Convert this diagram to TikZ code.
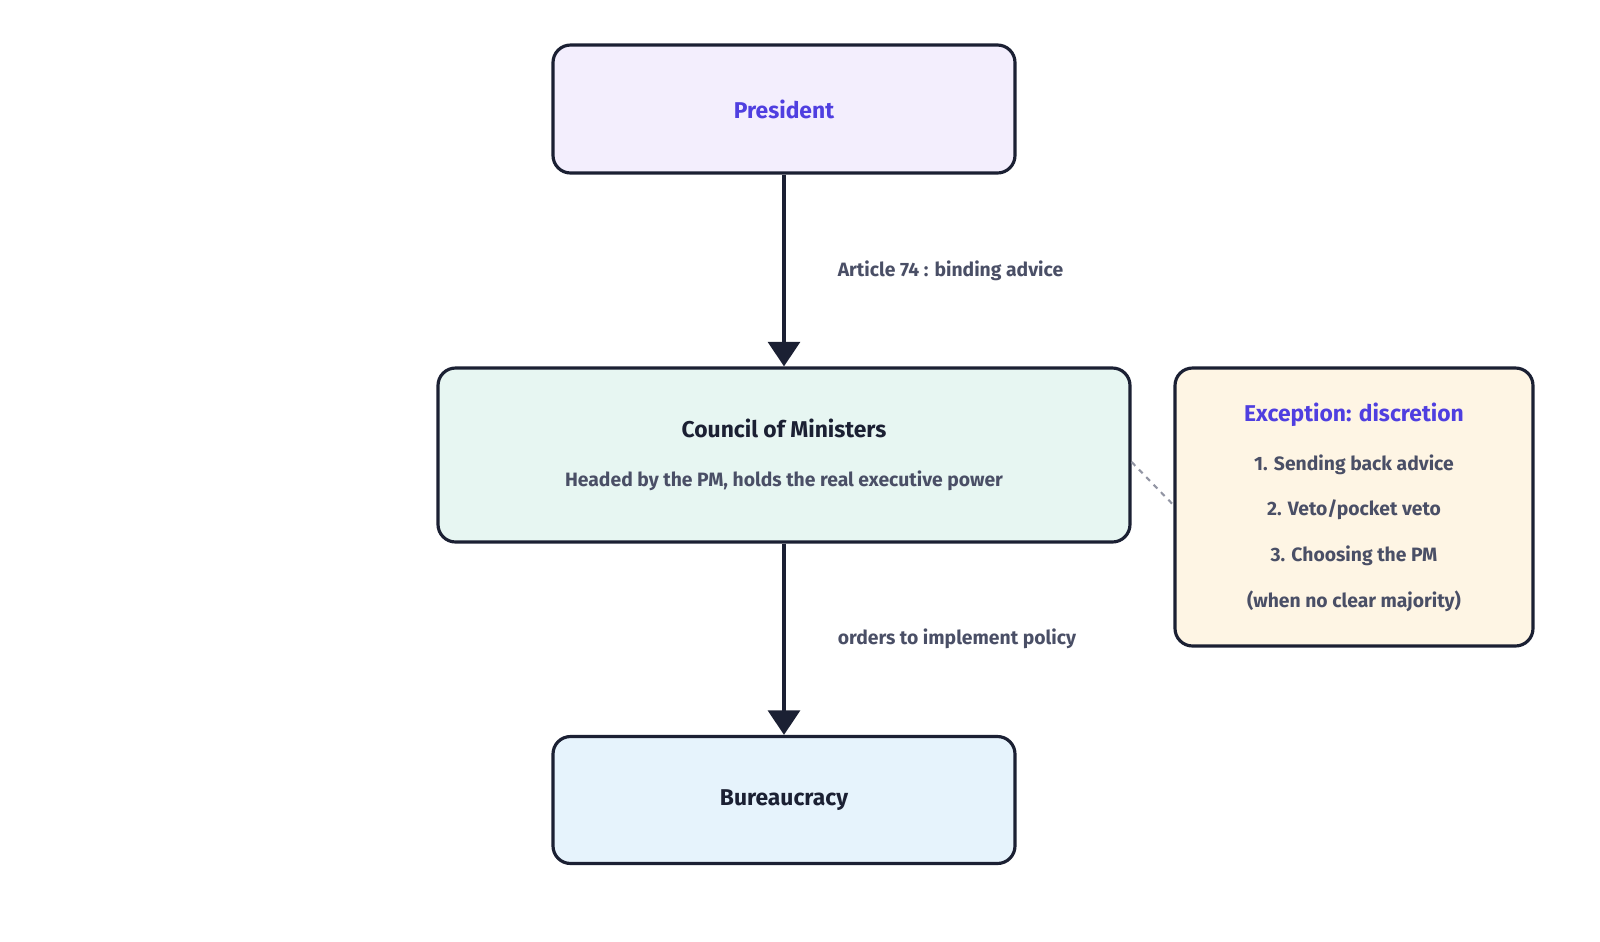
\documentclass[tikz,border=0pt]{standalone}
\usepackage{fontspec}
\setmainfont{Fira Sans}
\usetikzlibrary{positioning,arrows.meta}
\definecolor{inkc}{HTML}{1B2033}
\definecolor{violet}{HTML}{4F3FE0}
\definecolor{slate}{HTML}{4A4F66}
\definecolor{presfill}{HTML}{F3EEFD}
\definecolor{comfill}{HTML}{E7F6F2}
\definecolor{burfill}{HTML}{E6F3FC}
\definecolor{excfill}{HTML}{FEF5E4}
\tikzset{
  box/.style={draw=inkc, line width=1.8pt, rounded corners=10pt, align=center},
  flow/.style={draw=inkc, line width=2.6pt, -{Triangle[length=14pt,width=18pt]}},
  lbl/.style={text=slate, font=\fontsize{11}{13}\selectfont\bfseries, anchor=west}
}
\begin{document}
\begin{tikzpicture}[x=0.02cm,y=-0.02cm]
  \useasboundingbox (0,0) rectangle (1600,941);
  \node[box, fill=presfill, minimum width=462*0.02cm, minimum height=128*0.02cm,
        text=violet, font=\fontsize{13}{15}\selectfont\bfseries] (pres) at (784,109) {President};
  \node[box, fill=comfill, minimum width=692*0.02cm, minimum height=174*0.02cm] (com) at (784,455)
    {{\fontsize{13}{15}\selectfont\bfseries\color{inkc}Council of Ministers}\\[16pt]
     {\fontsize{11}{13}\selectfont\bfseries\color{slate}Headed by the PM, holds the real executive power}};
  \node[box, fill=burfill, minimum width=462*0.02cm, minimum height=127*0.02cm,
        text=inkc, font=\fontsize{13}{15}\selectfont\bfseries] (bur) at (784,800) {Bureaucracy};
  \node[box, fill=excfill, minimum width=358*0.02cm, minimum height=278*0.02cm,
        font=\fontsize{11}{13}\selectfont\bfseries, text=slate] (exc) at (1354,507)
    {{\fontsize{13}{15}\selectfont\color{violet}Exception: discretion}\\[15pt]
     1. Sending back advice\\[13pt]
     2. Veto/pocket veto\\[13pt]
     3. Choosing the PM\\[13pt]
     (when no clear majority)};
  \draw[flow] (pres) -- (com) node[lbl, midway, xshift=26pt] {Article 74 : binding advice};
  \draw[flow] (com) -- (bur) node[lbl, midway, xshift=26pt] {orders to implement policy};
  \draw[slate!60, line width=1.2pt, dashed] (com.east |- 0,462) -- (exc.west |- 0,505);
\end{tikzpicture}
\end{document}
